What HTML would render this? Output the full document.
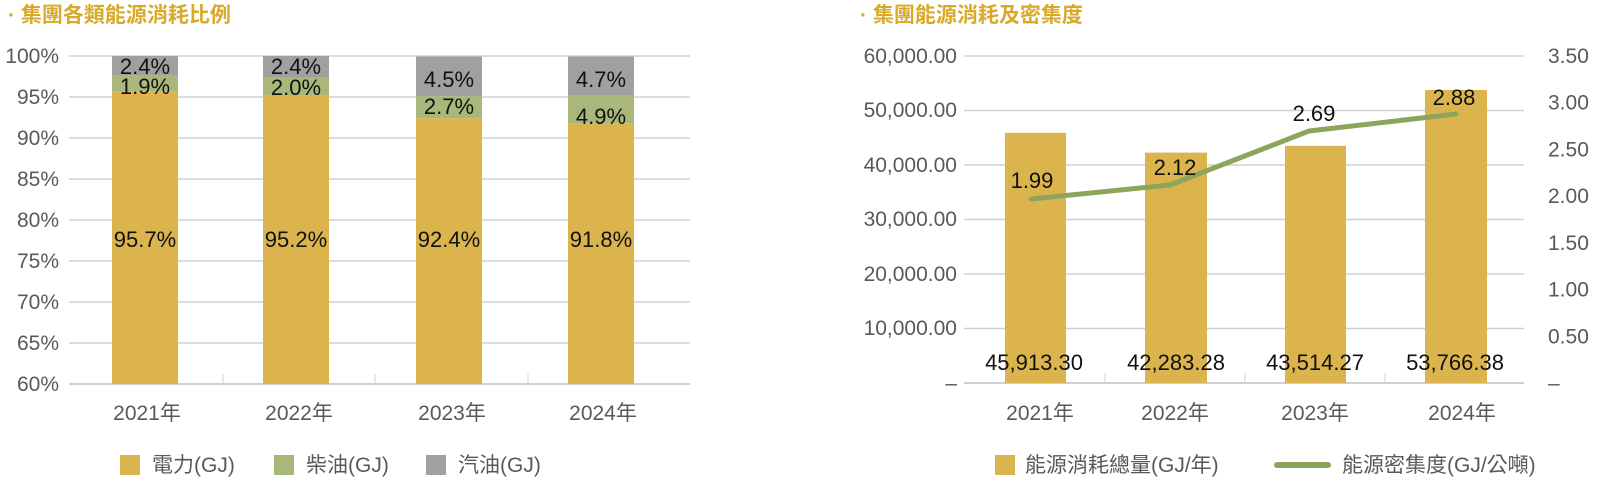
<!DOCTYPE html>
<html><head><meta charset="utf-8"><style>
html,body{margin:0;padding:0;background:#fff;}
svg{display:block;}
text{font-family:"Liberation Sans","Noto Sans CJK TC",sans-serif;}
</style></head><body>
<svg width="1600" height="484" viewBox="0 0 1600 484" xmlns="http://www.w3.org/2000/svg">
<text x="8" y="22" font-size="21" font-weight="bold" fill="#d9a92a">· 集團各類能源消耗比例</text>
<text x="860" y="22" font-size="21" font-weight="bold" fill="#d9a92a">· 集團能源消耗及密集度</text>

<!-- LEFT CHART -->
<g stroke="#d0d0d0" stroke-width="1.5">
<line x1="69" y1="56" x2="690" y2="56"/>
<line x1="69" y1="97" x2="690" y2="97"/>
<line x1="69" y1="138" x2="690" y2="138"/>
<line x1="69" y1="179" x2="690" y2="179"/>
<line x1="69" y1="220" x2="690" y2="220"/>
<line x1="69" y1="261" x2="690" y2="261"/>
<line x1="69" y1="302" x2="690" y2="302"/>
<line x1="69" y1="343" x2="690" y2="343"/>
</g>
<line x1="69" y1="384" x2="690" y2="384" stroke="#bfbfbf" stroke-width="1.5"/>
<g stroke="#d0d0d0" stroke-width="1">
<line x1="223" y1="374" x2="223" y2="384"/>
<line x1="375" y1="374" x2="375" y2="384"/>
<line x1="528" y1="374" x2="528" y2="384"/>
</g>
<g font-size="21" fill="#595959" text-anchor="end">
<text x="59" y="63">100%</text>
<text x="59" y="104">95%</text>
<text x="59" y="145">90%</text>
<text x="59" y="186">85%</text>
<text x="59" y="227">80%</text>
<text x="59" y="268">75%</text>
<text x="59" y="309">70%</text>
<text x="59" y="350">65%</text>
<text x="59" y="391">60%</text>
</g>
<rect x="112" y="91.3" width="66" height="292.7" fill="#dcb44e"/>
<rect x="112" y="75.7" width="66" height="15.6" fill="#a9b87a"/>
<rect x="112" y="56" width="66" height="19.7" fill="#a0a0a0"/>
<rect x="263" y="95" width="66" height="289" fill="#dcb44e"/>
<rect x="263" y="77" width="66" height="18" fill="#a9b87a"/>
<rect x="263" y="56" width="66" height="21" fill="#a0a0a0"/>
<rect x="416" y="118.3" width="66" height="265.7" fill="#dcb44e"/>
<rect x="416" y="96.2" width="66" height="22.1" fill="#a9b87a"/>
<rect x="416" y="56.5" width="66" height="39.7" fill="#a0a0a0"/>
<rect x="568" y="123.2" width="66" height="260.8" fill="#dcb44e"/>
<rect x="568" y="95" width="66" height="28.2" fill="#a9b87a"/>
<rect x="568" y="56.5" width="66" height="38.5" fill="#a0a0a0"/>
<g font-size="22" fill="#111" text-anchor="middle">
<text x="145" y="74">2.4%</text>
<text x="145" y="94">1.9%</text>
<text x="145" y="247">95.7%</text>
<text x="296" y="74">2.4%</text>
<text x="296" y="95">2.0%</text>
<text x="296" y="247">95.2%</text>
<text x="449" y="87">4.5%</text>
<text x="449" y="114">2.7%</text>
<text x="449" y="247">92.4%</text>
<text x="601" y="87">4.7%</text>
<text x="601" y="124">4.9%</text>
<text x="601" y="247">91.8%</text>
</g>
<g font-size="21" fill="#595959" text-anchor="middle">
<text x="147" y="420">2021年</text>
<text x="299" y="420">2022年</text>
<text x="452" y="420">2023年</text>
<text x="603" y="420">2024年</text>
</g>
<rect x="120" y="455" width="20" height="20" fill="#dcb44e"/>
<text x="152" y="472" font-size="21" fill="#595959">電力(GJ)</text>
<rect x="274" y="455" width="20" height="20" fill="#a9b87a"/>
<text x="306" y="472" font-size="21" fill="#595959">柴油(GJ)</text>
<rect x="426" y="455" width="20" height="20" fill="#a0a0a0"/>
<text x="458" y="472" font-size="21" fill="#595959">汽油(GJ)</text>

<!-- RIGHT CHART -->
<g stroke="#d0d0d0" stroke-width="1.5">
<line x1="964" y1="56" x2="1524" y2="56"/>
<line x1="964" y1="110.5" x2="1524" y2="110.5"/>
<line x1="964" y1="165" x2="1524" y2="165"/>
<line x1="964" y1="219.5" x2="1524" y2="219.5"/>
<line x1="964" y1="274" x2="1524" y2="274"/>
<line x1="964" y1="328.5" x2="1524" y2="328.5"/>
</g>
<line x1="964" y1="383" x2="1524" y2="383" stroke="#bfbfbf" stroke-width="1.5"/>
<g stroke="#d0d0d0" stroke-width="1">
<line x1="1105" y1="373" x2="1105" y2="383"/>
<line x1="1245" y1="373" x2="1245" y2="383"/>
<line x1="1385" y1="373" x2="1385" y2="383"/>
</g>
<g font-size="21" fill="#595959" text-anchor="end">
<text x="957" y="63">60,000.00</text>
<text x="957" y="117">50,000.00</text>
<text x="957" y="172">40,000.00</text>
<text x="957" y="226">30,000.00</text>
<text x="957" y="281">20,000.00</text>
<text x="957" y="335">10,000.00</text>
<text x="957" y="390">–</text>
</g>
<g font-size="21" fill="#595959" text-anchor="start">
<text x="1548" y="63">3.50</text>
<text x="1548" y="109.7">3.00</text>
<text x="1548" y="156.4">2.50</text>
<text x="1548" y="203.1">2.00</text>
<text x="1548" y="249.9">1.50</text>
<text x="1548" y="296.6">1.00</text>
<text x="1548" y="343.3">0.50</text>
<text x="1548" y="390">–</text>
</g>
<rect x="1005" y="132.8" width="61" height="250.2" fill="#dcb44e"/>
<rect x="1145" y="152.6" width="62" height="230.4" fill="#dcb44e"/>
<rect x="1285" y="145.8" width="61" height="237.2" fill="#dcb44e"/>
<rect x="1425" y="90" width="62" height="293" fill="#dcb44e"/>
<polyline points="1031,199 1170,185 1309,131 1456,114" fill="none" stroke="#8da55a" stroke-width="5" stroke-linecap="round" stroke-linejoin="round"/>
<g font-size="22" fill="#111" text-anchor="middle">
<text x="1032" y="188">1.99</text>
<text x="1175" y="175">2.12</text>
<text x="1314" y="121">2.69</text>
<text x="1454" y="105">2.88</text>
<text x="1034" y="370">45,913.30</text>
<text x="1176" y="370">42,283.28</text>
<text x="1315" y="370">43,514.27</text>
<text x="1455" y="370">53,766.38</text>
</g>
<g font-size="21" fill="#595959" text-anchor="middle">
<text x="1040" y="420">2021年</text>
<text x="1175" y="420">2022年</text>
<text x="1315" y="420">2023年</text>
<text x="1462" y="420">2024年</text>
</g>
<rect x="995" y="455" width="20" height="20" fill="#dcb44e"/>
<text x="1025" y="472" font-size="21" fill="#595959">能源消耗總量(GJ/年)</text>
<line x1="1277" y1="465" x2="1328" y2="465" stroke="#8da55a" stroke-width="6" stroke-linecap="round"/>
<text x="1342" y="472" font-size="21" fill="#595959">能源密集度(GJ/公噸)</text>
</svg>
</body></html>
